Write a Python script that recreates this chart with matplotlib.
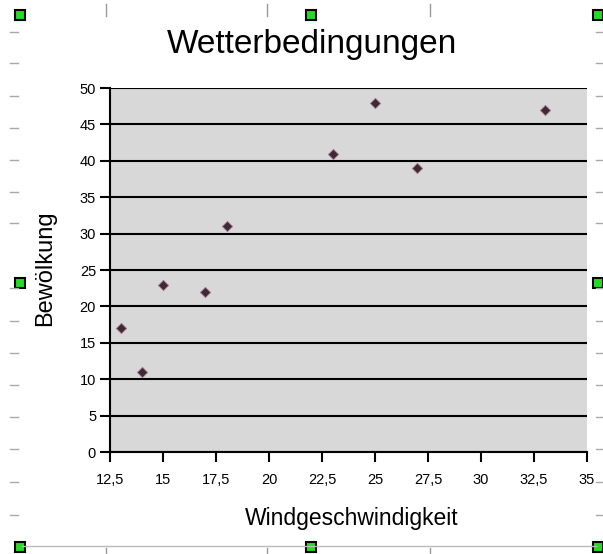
import matplotlib.pyplot as plt
from matplotlib.lines import Line2D
from matplotlib.patches import Rectangle

wind = [13, 14, 15, 17, 18, 23, 25, 27, 33]
clouds = [17, 11, 23, 22, 31, 41, 48, 39, 47]
x_ticks = [12.5, 15, 17.5, 20, 22.5, 25, 27.5, 30, 32.5, 35]
y_ticks = [0, 5, 10, 15, 20, 25, 30, 35, 40, 45, 50]

plt.rcParams['font.family'] = ['Liberation Sans', 'DejaVu Sans']

W, H = 603, 554
fig = plt.figure(figsize=(W / 100, H / 100), dpi=100)
ax = fig.add_axes([110 / W, 1 - 452 / H, 477 / W, 364 / H])

ax.set_facecolor('#d8d8d8')
ax.scatter(wind, clouds, marker='D', s=28, color='#3c2a36', edgecolors='#b07a8a', linewidths=0.6, zorder=3)

ax.set_xlim(12.5, 35)
ax.set_ylim(0, 50)
ax.set_xticks(x_ticks)
ax.set_yticks(y_ticks)
ax.set_xticklabels([f"{v:g}".replace('.', ',') for v in x_ticks])
ax.set_yticklabels([str(v) for v in y_ticks])
ax.tick_params(axis='both', direction='out', length=7, width=1.5, labelsize=10.5, colors='black')
ax.tick_params(axis='x', pad=8)
ax.tick_params(axis='y', pad=3)
ax.yaxis.grid(True, color='black', linewidth=1.5)
ax.set_axisbelow(True)
for s in ['top', 'right']:
    ax.spines[s].set_visible(False)
for s in ['left', 'bottom']:
    ax.spines[s].set_linewidth(1.5)

ax.set_xlabel('Windgeschwindigkeit', fontsize=16.5)
ax.set_ylabel('Bewölkung', fontsize=17)
ax.xaxis.set_label_coords(352 / W, 1 - 518 / H, transform=fig.transFigure)
ax.yaxis.set_label_coords(45 / W, 1 - 268 / H, transform=fig.transFigure)
ax.xaxis.label.set_va('center')
ax.yaxis.label.set_va('center')
fig.text(312 / W, 1 - 45 / H, 'Wetterbedingungen', ha='center', va='center', fontsize=24)

# editor frame decorations: ruler ticks and selection handles
def px(x, y):
    return x / W, 1 - y / H

for x in [106, 267, 430]:
    fig.add_artist(Line2D([px(x, 0)[0]] * 2, [px(0, 4)[1], px(0, 16)[1]], color='#999999', lw=1))
    fig.add_artist(Line2D([px(x, 0)[0]] * 2, [px(0, 548)[1], px(0, 554)[1]], color='#999999', lw=1))
for y in [32, 63, 96, 128, 160, 192, 223, 288, 321, 353, 385, 417, 449, 482, 515]:
    fig.add_artist(Line2D([px(10, 0)[0], px(18, 0)[0]], [px(0, y)[1]] * 2, color='#aaaaaa', lw=1))
    fig.add_artist(Line2D([px(596, 0)[0], px(603, 0)[0]], [px(0, y)[1]] * 2, color='#aaaaaa', lw=1))
fig.add_artist(Line2D([px(22, 0)[0], px(596, 0)[0]], [px(0, 546)[1]] * 2, color='#bbbbbb', lw=1))
for hx, hy in [(20, 15), (311, 15), (598, 15), (20, 283), (598, 283), (20, 547), (311, 547), (598, 547)]:
    x0, y0 = px(hx - 5, hy + 5)
    fig.add_artist(Rectangle((x0, y0), 10 / W, 10 / H, facecolor='#22dd22', edgecolor='black', lw=1.5))

fig.savefig('out.png', dpi=100)
